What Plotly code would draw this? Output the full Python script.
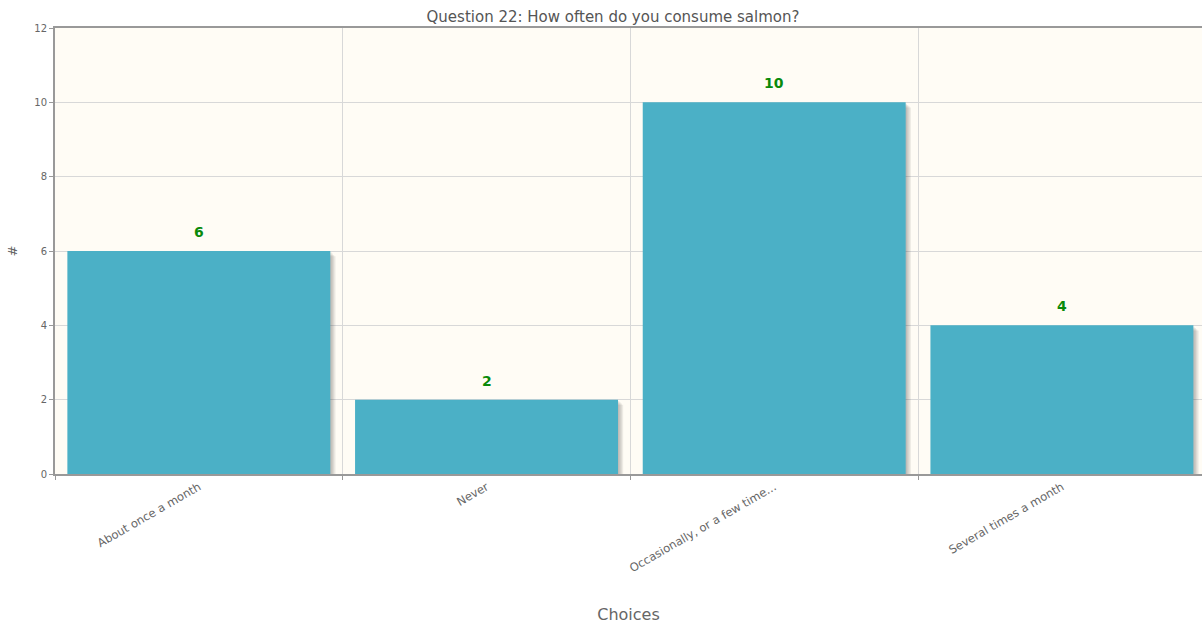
import plotly.graph_objects as go

categories = ["About once a month", "Never", "Occasionally, or a few time...", "Several times a month"]
counts = [6, 2, 10, 4]
y_ticks = [0, 2, 4, 6, 8, 10, 12]

title_text = "Question 22: How often do you consume salmon?"
x_title = "Choices"
y_title = "#"

BAR_COLOR = "#4bb0c6"
BAR_WIDTH = 0.914
FONT = "DejaVu Sans"

fig = go.Figure()

# layered drop shadow behind each bar (offset right/down, fading)
px_per_cat = 287.7
px_per_unit = 446 / 12
for k in range(1, 5):
    dx = 1.3 * k / px_per_cat
    dy = 1.3 * k / px_per_unit
    fig.add_trace(go.Bar(
        x=categories,
        y=[v - dy for v in counts],
        width=BAR_WIDTH,
        offset=-BAR_WIDTH / 2 + dx,
        marker=dict(color="rgba(60,60,60,0.09)", line=dict(width=0)),
        hoverinfo="skip",
        showlegend=False,
    ))

fig.add_trace(go.Bar(
    x=categories,
    y=counts,
    width=BAR_WIDTH,
    offset=-BAR_WIDTH / 2,
    marker=dict(color=BAR_COLOR, line=dict(width=0)),
    showlegend=False,
))

# value labels above each bar
for cat, v in zip(categories, counts):
    fig.add_annotation(
        x=cat, y=v, text=f"<b>{v}</b>",
        showarrow=False, yshift=19, yanchor="middle",
        font=dict(family=FONT, size=14, color="#0a8a0a"),
    )

fig.update_layout(
    width=1202,
    height=626,
    margin=dict(l=55, r=0, t=28, b=152),
    paper_bgcolor="white",
    plot_bgcolor="#fffcf5",
    barmode="overlay",
    font=dict(family=FONT, color="#666666"),
    title=dict(
        text=title_text,
        x=0.51, xanchor="center",
        y=0.974, yanchor="middle",
        font=dict(family=FONT, size=15, color="#555555"),
    ),
    xaxis=dict(
        type="category",
        range=[-0.5, 3.487],
        tickson="boundaries",
        showgrid=True,
        gridcolor="#d8d8d8",
        gridwidth=1,
        showline=True,
        linecolor="#999999",
        linewidth=2,
        mirror=True,
        ticks="outside",
        ticklen=4,
        tickcolor="#999999",
        tickangle=-30,
        tickfont=dict(family=FONT, size=11.5, color="#666666"),
        title=dict(text=x_title, font=dict(family=FONT, size=16, color="#666666"), standoff=35),
    ),
    yaxis=dict(
        range=[0, 12],
        tickvals=y_ticks,
        showgrid=True,
        gridcolor="#d8d8d8",
        gridwidth=1,
        zeroline=False,
        showline=True,
        linecolor="#999999",
        linewidth=2,
        ticks="outside",
        ticklen=4,
        tickcolor="#999999",
        tickfont=dict(family=FONT, size=10, color="#666666"),
        title=dict(text=y_title, font=dict(family=FONT, size=13, color="#666666"), standoff=14),
    ),
)

fig.write_html("out.html")
